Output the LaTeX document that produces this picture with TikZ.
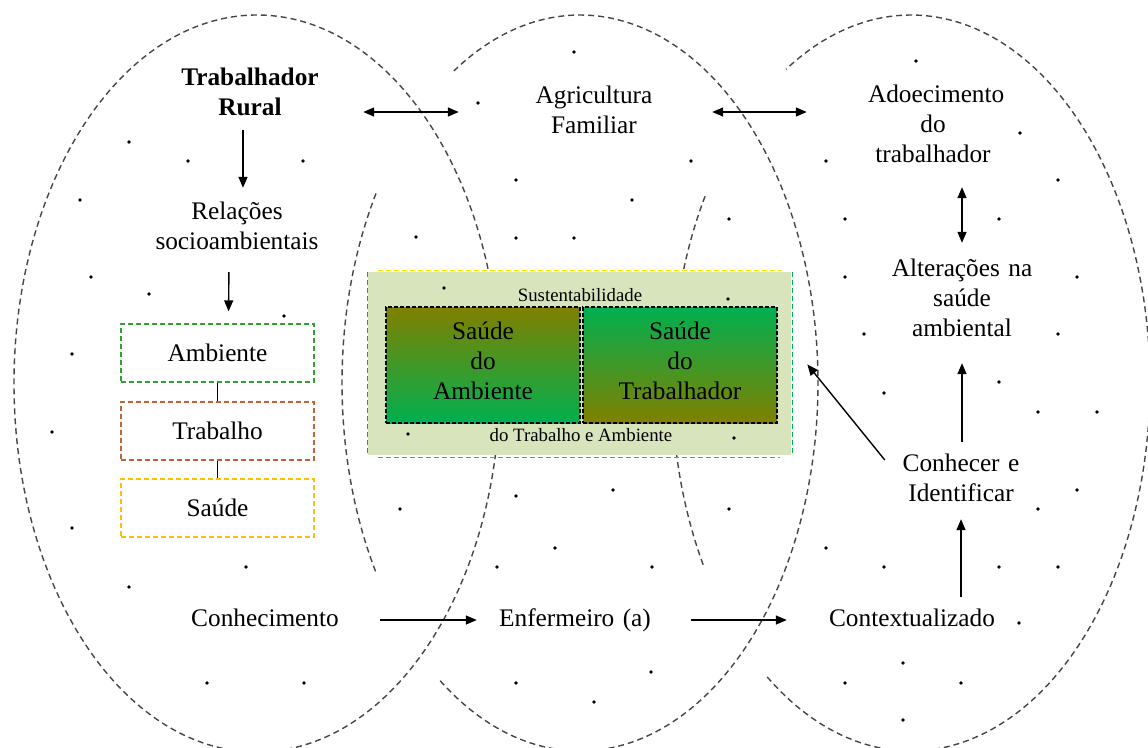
\documentclass[tikz,border=0pt]{standalone}
\usepackage{fontspec}
\setmainfont{Liberation Serif}
\usetikzlibrary{arrows.meta}

\definecolor{ellgray}{RGB}{70,70,70}
\definecolor{olivetop}{RGB}{128,128,0}
\definecolor{greenbot}{RGB}{0,176,80}
\definecolor{boxfill}{RGB}{216,228,188}
\definecolor{ambgreen}{RGB}{50,160,50}
\definecolor{trbbrown}{RGB}{192,100,60}
\definecolor{saugold}{RGB}{255,192,0}
\definecolor{bordyellow}{RGB}{250,230,0}
\definecolor{bordgreen}{RGB}{0,176,80}
\definecolor{bordred}{RGB}{225,100,100}

\newcommand{\bigtxt}{\fontsize{25.3}{30}\selectfont}
\newcommand{\smalltxt}{\fontsize{18.8}{22}\selectfont}

\begin{document}
\begin{tikzpicture}[x=1pt,y=-1pt,
  txt/.style={inner sep=0pt, align=center, font=\bigtxt,
    execute at begin node=\strut, execute at end node=\strut},
  smalltext/.style={inner sep=0pt, font=\smalltxt},
  ell/.style={draw=ellgray, line width=1.4pt, dash pattern=on 6pt off 4pt},
  inbox/.style={draw=black, dash pattern=on 4pt off 2pt, line width=1.3pt,
    minimum width=194pt, minimum height=116pt, inner sep=0pt, align=center,
    font=\bigtxt, execute at begin node=\strut, execute at end node=\strut},
  lbox/.style={dash pattern=on 5pt off 3pt, line width=1.3pt,
    minimum width=193pt, minimum height=58pt, inner sep=0pt, font=\bigtxt},
  border/.style={dash pattern=on 5pt off 3pt, line width=1.2pt},
  arr/.style={-{Triangle[length=11pt,width=9pt]}, line width=1.4pt},
  dbl/.style={{Triangle[length=11pt,width=9pt]}-{Triangle[length=11pt,width=9pt]}, line width=1.4pt},
  dot/.style={fill=black}
]
\fill[white] (0,0) rectangle (1148,747);
\useasboundingbox (0,0) rectangle (1148,747);

% ellipses
\draw[ell] (257,383.5) ellipse [x radius=243, y radius=368.5];
\draw[ell] plot[domain=-126:122, samples=150, smooth, variable=\t] ({580+238*cos(\t)}, {383-368*sin(\t)});
\draw[ell] plot[domain=149:211, samples=60, smooth, variable=\t] ({580+238*cos(\t)}, {383-368*sin(\t)});
\draw[ell] plot[domain=-127:121.5, samples=150, smooth, variable=\t] ({911+239*cos(\t)}, {383-368*sin(\t)});
\draw[ell] plot[domain=149.5:210, samples=60, smooth, variable=\t] ({911+239*cos(\t)}, {383-368*sin(\t)});

% central box
\node[fill=boxfill, minimum width=423pt, minimum height=183pt, inner sep=0pt] (outer) at (579.5,363.5) {};
\draw[border, bordyellow] ([xshift=10pt,yshift=1.5pt]outer.north west) -- ([xshift=-9pt,yshift=1.5pt]outer.north east);
\draw[border, bordgreen] ([xshift=-0.5pt]outer.north west) -- ([xshift=-0.5pt]outer.south west);
\draw[border, bordgreen] ([xshift=1.5pt]outer.north east) -- ([xshift=1.5pt]outer.south east);
\draw[border, bordred] ([xshift=10pt,yshift=-2pt]outer.south west) -- ([xshift=-11pt,yshift=-2pt]outer.south east);

\node[inbox, top color=olivetop, bottom color=greenbot] (sa) at (483,365) {Saúde\\do\\Ambiente};
\node[inbox, top color=greenbot, bottom color=olivetop] (st) at (680,365) {Saúde\\do\\Trabalhador};
\node[smalltext] (sust) at (580,295) {Sustentabilidade};
\node[smalltext] (dotr) at (581,435) {do Trabalho e Ambiente};

% left boxes
\node[lbox, draw=ambgreen] (amb) at (217.5,353) {Ambiente};
\node[lbox, draw=trbbrown] (trb) at (217.5,431) {Trabalho};
\node[lbox, draw=saugold] (sau) at (217.5,508) {Saúde};
\draw[line width=1.3pt] (amb.south) -- (trb.north);
\draw[line width=1.3pt] (trb.south) -- (sau.north);

% dots
\foreach \x/\y in {129/142, 188/161, 303/161, 80/200, 91/277, 149/294, 284/316, 72/354, 52/432,
  72/528, 246/567, 129/587, 207/683, 304/683,
  574/52, 478/103, 691/161, 516/180, 632/200, 729/219, 416/237, 516/238, 574/238,
  444/288, 728/299, 408/434, 734/438, 400/509, 516/496, 613/490, 729/509, 555/548,
  497/567, 652/567, 516/683, 651/672, 594/702,
  916/61, 1020/133, 826/161, 1058/180, 845/219, 999/219, 845/277, 1077/277, 864/334,
  1058/334, 999/382, 884/393, 1038/412, 1097/412, 1077/490, 1038/509, 826/548,
  884/567, 999/567, 1058/567, 1019/623, 903/663, 845/683, 961/683, 903/720}
  \fill[dot] (\x,\y) circle[radius=1.8pt];

% text nodes
\node[txt, text width=150pt, font=\bigtxt\bfseries] (trab) at (250,94) {Trabalhador\\Rural};
\node[txt, text width=180pt] (rel) at (237,228) {Relações\\socioambientais};
\node[txt, text width=120pt] (agr) at (594,112) {Agricultura\\Familiar};
\node[txt, text width=130pt] (ado) at (933,126) {Adoecimento\\do\\trabalhador};
\node[txt, text width=150pt] (alt) at (962,300) {Alterações na\\saúde\\ambiental};
\node[txt, text width=130pt] (ci) at (961,480) {Conhecer e\\Identificar};
\node[txt, text width=150pt] (conh) at (265,620) {Conhecimento};
\node[txt, text width=155pt] (enf) at (575,620) {Enfermeiro (a)};
\node[txt, text width=170pt] (ctx) at (912,620) {Contextualizado};

% connectors
\draw[arr, shorten <=6pt, shorten >=10pt] ([xshift=-7pt]trab.south) -- ([xshift=6pt]rel.north);
\draw[arr, shorten <=14pt, shorten >=12pt] ([xshift=-8pt]rel.south) -- ([xshift=11pt]amb.north);
\draw[dbl, shorten <=38pt, shorten >=75pt] (trab.east |- agr.west) -- (agr.west);
\draw[dbl, shorten <=58pt, shorten >=61pt] (agr.east) -- (ado.west |- agr.east);
\draw[dbl, shorten <=16pt, shorten >=12pt] (ado.south -| alt.north) -- (alt.north);
\draw[arr, shorten <=8pt, shorten >=18pt] (ci.north -| alt.south) -- (alt.south);
\draw[arr, shorten <=8pt, shorten >=9pt] (ctx.north -| ci.south) -- (ci.south);
\draw[arr, shorten >=25.6pt] ([xshift=-11pt,yshift=20pt]ci.west) -- ([yshift=19pt]outer.east);
\draw[arr, shorten <=40pt, shorten >=20.5pt] (conh.east) -- (enf.west);
\draw[arr, shorten <=38.5pt, shorten >=40pt] (enf.east) -- (ctx.west);
\end{tikzpicture}
\end{document}
